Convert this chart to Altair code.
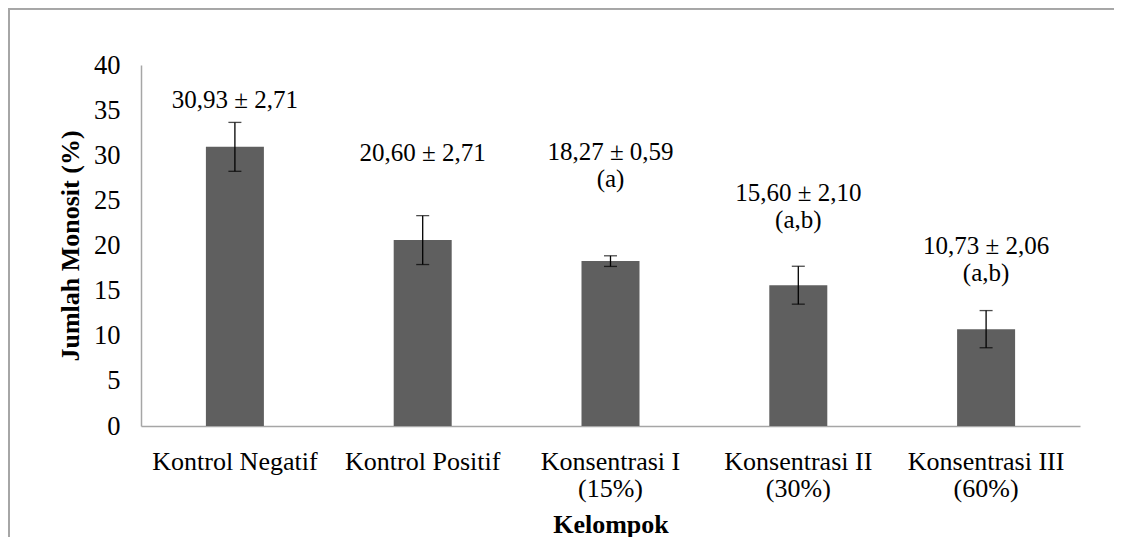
import altair as alt
import pandas as pd

categories = ["Kontrol Negatif", "Kontrol Positif", "Konsentrasi I\n(15%)",
              "Konsentrasi II\n(30%)", "Konsentrasi III\n(60%)"]
means = [30.93, 20.60, 18.27, 15.60, 10.73]
sds = [2.71, 2.71, 0.59, 2.10, 2.06]
label_line1 = ["30,93 \u00b1 2,71", "20,60 \u00b1 2,71", "18,27 \u00b1 0,59",
               "15,60 \u00b1 2,10", "10,73 \u00b1 2,06"]
label_line2 = ["", "", "(a)", "(a,b)", "(a,b)"]
label_y = [36.1, 30.3, 30.4, 25.8, 20.0]
y_ticks = [0, 5, 10, 15, 20, 25, 30, 35, 40]

df = pd.DataFrame({
    "kelompok": categories,
    "mean": means,
    "sd": sds,
    "l1": label_line1,
    "l2": label_line2,
    "ly": label_y,
})

FONT = "Liberation Serif"
W, H = 939, 361

base = alt.Chart(df).transform_calculate(
    lo="datum.mean - datum.sd", hi="datum.mean + datum.sd"
)

x_enc = alt.X(
    "kelompok:N",
    sort=categories,
    scale=alt.Scale(paddingInner=0, paddingOuter=0),
    axis=alt.Axis(
        title="Kelompok",
        titleFont=FONT, titleFontSize=26, titleFontWeight="bold", titleColor="black",
        titleX=W / 2, titleY=98, titleBaseline="middle", titleAlign="center",
        labelFont=FONT, labelFontSize=26, labelColor="black", labelAngle=0,
        labelExpr="split(datum.label, '\\n')", labelLineHeight=27,
        labelPadding=22, ticks=False, domainColor="#a6a6a6", domainWidth=1.5,
    ),
)

y_scale = alt.Scale(domain=[0, 40], nice=False)

bars = base.mark_bar(size=58, color="#5f5f5f").encode(
    x=x_enc,
    y=alt.Y(
        "mean:Q",
        scale=y_scale,
        axis=alt.Axis(
            title="Jumlah Monosit (%)",
            values=y_ticks, grid=False, ticks=False,
            titleFont=FONT, titleFontSize=26, titleFontWeight="bold", titleColor="black",
            titleAngle=-90, titleX=-71, titleY=H / 2, titleAlign="center",
            titleBaseline="middle",
            labelFont=FONT, labelFontSize=26.5, labelColor="black", labelPadding=21,
            domainColor="#a6a6a6", domainWidth=1.5,
        ),
    ),
)

err = base.mark_rule(color="black", strokeWidth=1.3).encode(
    x=alt.X("kelompok:N", sort=categories),
    y=alt.Y("lo:Q", scale=y_scale),
    y2="hi:Q",
)
cap_lo = base.mark_tick(color="black", size=13, thickness=1.3).encode(
    x=alt.X("kelompok:N", sort=categories),
    y=alt.Y("lo:Q", scale=y_scale),
)
cap_hi = base.mark_tick(color="black", size=13, thickness=1.3).encode(
    x=alt.X("kelompok:N", sort=categories),
    y=alt.Y("hi:Q", scale=y_scale),
)

txt1 = base.mark_text(font=FONT, fontSize=25, color="black", baseline="middle").encode(
    x=alt.X("kelompok:N", sort=categories),
    y=alt.Y("ly:Q", scale=y_scale),
    text="l1:N",
)
txt2 = base.mark_text(font=FONT, fontSize=25, color="black", baseline="middle", dy=27).encode(
    x=alt.X("kelompok:N", sort=categories),
    y=alt.Y("ly:Q", scale=y_scale),
    text="l2:N",
)

frame_top = alt.Chart(df).mark_rule(color="#a6a6a6", strokeWidth=1.5).encode(
    x=alt.value(-132), x2=alt.value(990), y=alt.value(-56.3)
)
frame_left = alt.Chart(df).mark_rule(color="#a6a6a6", strokeWidth=1.5).encode(
    x=alt.value(-132), y=alt.value(-57), y2=alt.value(500)
)

chart = alt.layer(bars, err, cap_lo, cap_hi, txt1, txt2, frame_top, frame_left).properties(
    width=W, height=H,
    background="white",
    autosize=alt.AutoSizeParams(type="none"),
    padding={"left": 133, "top": 57, "right": 34, "bottom": 111},
).configure_view(stroke="transparent", strokeWidth=0, strokeOpacity=0)

chart.save("out.html", embed_options={"renderer": "svg", "actions": False})
